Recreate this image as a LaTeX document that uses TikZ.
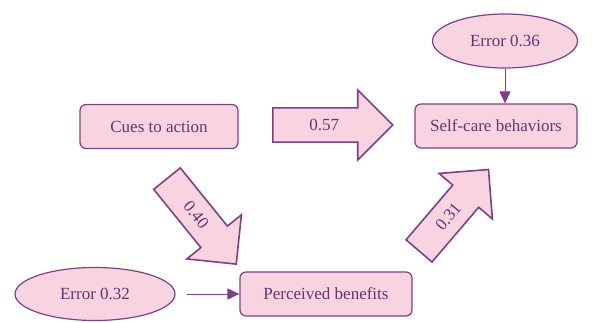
\documentclass[tikz,border=0pt]{standalone}
\usepackage{fontspec}
\setmainfont{Liberation Serif}
\usetikzlibrary{shapes.geometric,shapes.arrows,arrows.meta}
\definecolor{boxfill}{RGB}{248,212,225}
\definecolor{boxline}{RGB}{125,65,135}
\definecolor{boxtext}{RGB}{108,48,112}
\tikzset{
  var/.style={draw=boxline, fill=boxfill, text=boxtext, line width=1.2pt, rounded corners=6pt,
    minimum height=44pt, font=\fontsize{17}{20}\selectfont},
  err/.style={ellipse, draw=boxline, fill=boxfill, text=boxtext, line width=1.2pt,
    minimum height=54pt, font=\fontsize{17}{20}\selectfont},
  coef/.style={single arrow, draw=boxline, fill=boxfill, text=boxtext, line width=1.6pt,
    inner ysep=10.5pt, single arrow head extend=18pt, minimum width=70pt, minimum height=120pt,
    anchor=tail, font=\fontsize{17}{20}\selectfont},
  link/.style={draw=boxline, line width=1pt, -{Triangle[width=11pt,length=12pt]}}
}
\begin{document}
\begin{tikzpicture}[x=1pt,y=-1pt]
\useasboundingbox (0,0) rectangle (597,323);
\node[var, minimum width=158pt] (cues) at (159,126.5) {Cues to action};
\node[var, minimum width=162pt] (self) at (496,126) {Self-care behaviors};
\node[var, minimum width=172pt] (benefit) at (326,294) {Perceived benefits};
\node[err, minimum width=145pt] (err36) at (505,41) {Error 0.36};
\node[err, minimum width=160pt, minimum height=53pt] (err32) at (95,294) {Error 0.32};
\node[coef] (c57) at (272,125) {0.57};
\node[coef, rotate=-51, minimum height=110pt] (c40) at (166.5,178) {0.40};
\node[coef, rotate=49.5, minimum height=107pt] (c31) at (418.5,251.5) {0.31};
\draw[link] (err36.south) -- (err36.south |- self.north);
\draw[link, shorten <=11pt] (err32) -- (benefit);
\end{tikzpicture}
\end{document}
